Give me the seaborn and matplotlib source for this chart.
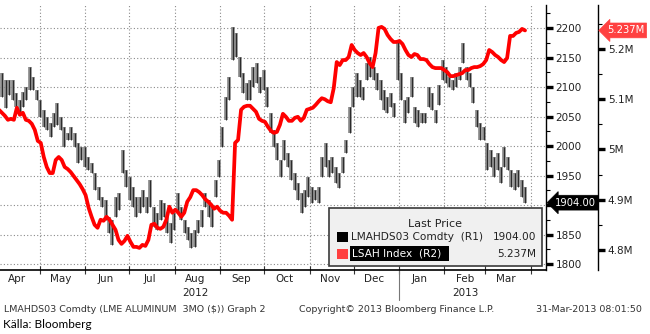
import numpy as np
import pandas as pd
import matplotlib
matplotlib.use("Agg")
import matplotlib.pyplot as plt
import matplotlib.dates as mdates
import matplotlib.ticker as mticker
from matplotlib.transforms import blended_transform_factory
from matplotlib.patches import Rectangle
import seaborn as sns

# ---------------- data ----------------
start_date = "2012-04-03"
end_date = "2013-03-28"

lme_high = [2146, 2124, 2112, 2112, 2112, 2090, 2078, 2092, 2100, 2134,
            2117, 2095, 2078, 2061, 2049, 2039, 2056, 2073, 2049, 2032,
            2022, 2032, 2022, 2005, 1998, 1998, 1981, 1971, 1954, 1931,
            1914, 1908, 1880, 1875, 1914, 1920, 1993, 1959, 1947, 1931,
            1914, 1914, 1925, 1914, 1942, 1897, 1887, 1908, 1903, 1880,
            1870, 1887, 1920, 1897, 1875, 1863, 1853, 1858, 1875, 1892,
            1920, 1908, 1897, 1942, 1976, 2032, 2083, 2117, 2202, 2192,
            2151, 2124, 2107, 2112, 2134, 2141, 2117, 2129, 2100, 2056,
            2027, 2005, 1976, 2010, 1988, 1976, 1954, 1937, 1920, 1925,
            1947, 1931, 1925, 1931, 1981, 2005, 1976, 1981, 1964, 1954,
            1981, 2010, 2066, 2100, 2124, 2112, 2100, 2141, 2151, 2134,
            2124, 2112, 2095, 2083, 2090, 2073, 2180, 2124, 2078, 2083,
            2117, 2066, 2061, 2056, 2056, 2100, 2090, 2061, 2103, 2146,
            2134, 2117, 2112, 2124, 2134, 2175, 2134, 2124, 2100, 2061,
            2039, 2032, 2005, 1993, 1981, 1988, 1964, 1998, 1981, 1959,
            1954, 1959, 1942, 1931]

lme_low = [2124, 2083, 2064, 2086, 2078, 2066, 2053, 2066, 2078, 2095,
           2095, 2078, 2049, 2032, 2027, 2015, 2032, 2036, 2027, 1998,
           2010, 2010, 1998, 1971, 1976, 1964, 1959, 1954, 1925, 1908,
           1897, 1875, 1853, 1832, 1880, 1892, 1954, 1931, 1908, 1897,
           1880, 1887, 1897, 1887, 1897, 1863, 1858, 1875, 1880, 1853,
           1836, 1858, 1887, 1875, 1853, 1841, 1827, 1829, 1853, 1863,
           1897, 1880, 1863, 1914, 1947, 1998, 2044, 2078, 2146, 2151,
           2117, 2090, 2078, 2078, 2100, 2107, 2090, 2095, 2066, 2022,
           1998, 1976, 1947, 1976, 1964, 1942, 1925, 1908, 1887, 1897,
           1914, 1903, 1908, 1903, 1947, 1964, 1947, 1954, 1937, 1929,
           1954, 1988, 2022, 2066, 2083, 2083, 2078, 2112, 2117, 2112,
           2095, 2078, 2061, 2056, 2066, 2049, 2112, 2078, 2039, 2056,
           2083, 2039, 2032, 2039, 2039, 2066, 2061, 2039, 2070, 2112,
           2107, 2100, 2095, 2100, 2112, 2141, 2112, 2100, 2073, 2032,
           2010, 2010, 1959, 1964, 1947, 1959, 1937, 1964, 1959, 1931,
           1925, 1931, 1914, 1904]

lsah_m = [5.079, 5.073, 5.067, 5.059, 5.061, 5.059, 5.083, 5.069, 5.073, 5.059,
          5.057, 5.051, 5.039, 5.017, 5.013, 4.985, 4.965, 4.953, 4.953, 4.979,
          4.985, 4.979, 4.965, 4.961, 4.955, 4.947, 4.939, 4.931, 4.921, 4.909,
          4.884, 4.866, 4.850, 4.844, 4.860, 4.858, 4.866, 4.860, 4.850, 4.840,
          4.820, 4.812, 4.818, 4.828, 4.816, 4.806, 4.806, 4.804, 4.810, 4.808,
          4.820, 4.850, 4.852, 4.844, 4.842, 4.846, 4.860, 4.886, 4.874, 4.880,
          4.874, 4.866, 4.874, 4.896, 4.905, 4.919, 4.919, 4.915, 4.909, 4.901,
          4.896, 4.890, 4.882, 4.886, 4.878, 4.874, 4.874, 4.868, 4.860, 5.013,
          5.019, 5.079, 5.085, 5.087, 5.087, 5.081, 5.075, 5.061, 5.057, 5.055,
          5.045, 5.037, 5.033, 5.035, 5.049, 5.071, 5.065, 5.057, 5.057, 5.063,
          5.065, 5.057, 5.063, 5.079, 5.081, 5.083, 5.089, 5.096, 5.102, 5.100,
          5.096, 5.094, 5.122, 5.174, 5.168, 5.178, 5.178, 5.184, 5.208, 5.198,
          5.192, 5.188, 5.192, 5.184, 5.172, 5.164, 5.192, 5.242, 5.244, 5.240,
          5.228, 5.220, 5.214, 5.214, 5.216, 5.210, 5.198, 5.188, 5.184, 5.190,
          5.188, 5.180, 5.180, 5.178, 5.170, 5.164, 5.162, 5.162, 5.162, 5.158,
          5.154, 5.146, 5.146, 5.148, 5.150, 5.152, 5.158, 5.158, 5.162, 5.164,
          5.164, 5.166, 5.170, 5.178, 5.198, 5.194, 5.188, 5.184, 5.178, 5.174,
          5.182, 5.226, 5.226, 5.232, 5.234, 5.240, 5.237]

lme_last = 1904.00
r1_ticks = [1800, 1850, 1900, 1950, 2000, 2050, 2100, 2150, 2200]
r1_hidden_label = 1900          # covered by the last-price tag in the original
r2_ticks = [4.8, 4.9, 5.0, 5.1, 5.2]
year_labels = [("2012-08-15", "2012"), ("2013-02-15", "2013")]
series_names = ["LMAHDS03 Comdty  (R1)", "LSAH Index  (R2)"]
footer_left = "LMAHDS03 Comdty (LME ALUMINUM  3MO ($)) Graph 2"
footer_mid = "Copyright\u00a9 2013 Bloomberg Finance L.P."
footer_right = "31-Mar-2013 08:01:50"
source_text = "K\u00e4lla: Bloomberg"

lme_df = pd.DataFrame({
    "date": pd.date_range(start_date, end_date, periods=len(lme_high)),
    "high": lme_high, "low": lme_low})
lsah_df = pd.DataFrame({
    "date": pd.date_range(start_date, end_date, periods=len(lsah_m)),
    "value": lsah_m})

# ---------------- style ----------------
sns.set_style("white")
plt.rcParams["font.family"] = ["DejaVu Sans"]
TXT = "#222222"

W, H = 650, 334
fig = plt.figure(figsize=(W / 100, H / 100), dpi=100)
fig.patch.set_facecolor("white")

def fx(x):
    return x / W

def fy(y):
    return 1 - y / H

ax1 = fig.add_axes([0, fy(270), fx(546), fy(5) - fy(270)])
ax1.set_facecolor("white")

# OHLC-style high/low bars
ax1.vlines(lme_df["date"], lme_df["low"], lme_df["high"], color="#858585", lw=2.6, zorder=2)
ax1.vlines(lme_df["date"], lme_df["low"], lme_df["high"], color="#111111", lw=0.55, zorder=3)

base = pd.Timestamp("2012-04-01")
x0 = mdates.date2num(base) + 2.73
x1 = mdates.date2num(base) + 375.3
ax1.set_ylim(1789.9, 2239.0)

# twin axis for LSAH
ax2 = ax1.twinx()
sns.lineplot(data=lsah_df, x="date", y="value", ax=ax2, color="#ff0000", lw=2.7, zorder=5)
ax2.set_ylim(4.760, 5.2876)
ax1.set_xlim(x0, x1)
ax2.set_xlim(x0, x1)
ax2.set_xlabel("")
ax2.set_ylabel("")
ax1.set_xlabel("")
ax1.set_ylabel("")
ax2.patch.set_visible(False)

# spines
for s in ["top", "left"]:
    ax1.spines[s].set_visible(False)
ax1.spines["right"].set_color("black")
ax1.spines["right"].set_linewidth(1.0)
ax1.spines["bottom"].set_color("black")
ax1.spines["bottom"].set_linewidth(1.2)
for s in ["top", "left", "bottom"]:
    ax2.spines[s].set_visible(False)
ax2.spines["right"].set_position(("axes", 598 / 546))
ax2.spines["right"].set_color("black")
ax2.spines["right"].set_linewidth(1.0)

# y ticks R1
ax1.yaxis.tick_right()
ax1.set_yticks(r1_ticks)
ax1.set_yticklabels(["" if t == r1_hidden_label else str(t) for t in r1_ticks])
ax1.yaxis.set_minor_locator(mticker.MultipleLocator(25))
ax1.tick_params(axis="y", which="major", right=True, left=False, labelright=True,
                labelleft=False, direction="out", length=5, width=2.4,
                labelsize=7.5, pad=2, labelcolor=TXT, color="black")
ax1.tick_params(axis="y", which="minor", right=True, left=False, direction="out",
                length=3, width=0.8, color="black")

# y ticks R2
ax2.set_yticks(r2_ticks)
ax2.yaxis.set_major_formatter(mticker.FuncFormatter(lambda v, p: f"{v:g}M"))
ax2.yaxis.set_minor_locator(mticker.MultipleLocator(0.05))
ax2.tick_params(axis="y", which="major", direction="out", length=5, width=2.4,
                labelsize=7.5, pad=2, labelcolor=TXT, color="black")
ax2.tick_params(axis="y", which="minor", direction="out", length=3, width=0.8, color="black")

# x ticks
ax1.xaxis.set_major_locator(mdates.MonthLocator())
ax1.xaxis.set_major_formatter(mticker.NullFormatter())
ax1.xaxis.set_minor_locator(mdates.MonthLocator(bymonthday=15))
ax1.xaxis.set_minor_formatter(mdates.DateFormatter("%b"))
ax1.tick_params(axis="x", which="major", direction="inout", length=6, width=0.8,
                color="#333333", bottom=True)
ax1.tick_params(axis="x", which="minor", length=0, labelsize=7.5, pad=3, labelcolor=TXT)

# grid
ax1.grid(True, which="major", axis="both", color="#8a8a8a", ls=(0, (1, 2)), lw=0.8)
ax1.set_axisbelow(True)
ax2.grid(False)

# year labels + separator
tr = blended_transform_factory(ax1.transData, ax1.transAxes)
for d, lab in year_labels:
    ax1.text(mdates.date2num(pd.Timestamp(d)), -0.087, lab, transform=tr,
             ha="center", va="center", fontsize=7.5, color=TXT)
jan = mdates.date2num(pd.Timestamp("2013-01-01"))
ax1.plot([jan, jan], [0, -0.113], transform=tr, clip_on=False, color="#777777", lw=0.8)

# value tags on the axes
tr1 = blended_transform_factory(ax1.transAxes, ax1.transData)
ax1.annotate(f"{lme_last:.2f}", xy=(1.0, lme_last), xycoords=tr1, xytext=(6.6, 0),
             textcoords="offset points", ha="left", va="center", fontsize=7.2,
             color="white", zorder=10, annotation_clip=False,
             bbox=dict(boxstyle="larrow,pad=0.24", fc="black", ec="black", lw=0.5))
tr2 = blended_transform_factory(ax2.transAxes, ax2.transData)
ax2.annotate(f"{lsah_m[-1]:.3f}M", xy=(598 / 546, lsah_m[-1]), xycoords=tr2, xytext=(6.4, 0),
             textcoords="offset points", ha="left", va="center", fontsize=7.2,
             color="white", zorder=10, annotation_clip=False,
             bbox=dict(boxstyle="larrow,pad=0.24", fc="#ff4040", ec="#ff4040", lw=0.5))

# legend box (Bloomberg style)
LF = 7.6
fig.add_artist(Rectangle((fx(329), fy(266)), fx(542) - fx(329), fy(208) - fy(266),
                         transform=fig.transFigure, fc="#f0f0f0", ec="#3a3a3a", lw=1.2, zorder=20))
fig.text(fx(435), fy(224), "Last Price", ha="center", va="center", fontsize=8, color=TXT, zorder=21)
fig.add_artist(Rectangle((fx(337), fy(242)), fx(11), fy(0) - fy(10), transform=fig.transFigure,
                         fc="black", ec="none", zorder=21))
fig.text(fx(351), fy(237), series_names[0], ha="left", va="center", fontsize=LF, color=TXT, zorder=21)
fig.text(fx(536), fy(237), f"{lme_last:.2f}", ha="right", va="center", fontsize=LF, color=TXT, zorder=21)
fig.add_artist(Rectangle((fx(337), fy(259)), fx(11), fy(0) - fy(10), transform=fig.transFigure,
                         fc="#ff4040", ec="none", zorder=21))
fig.add_artist(Rectangle((fx(350), fy(261)), fx(449) - fx(350), fy(246) - fy(261),
                         transform=fig.transFigure, fc="black", ec="none", zorder=21))
fig.text(fx(352), fy(254), series_names[1], ha="left", va="center", fontsize=LF, color="white", zorder=22)
fig.text(fx(536), fy(254), f"{lsah_m[-1]:.3f}M", ha="right", va="center", fontsize=LF, color=TXT, zorder=21)

# footer
fig.text(fx(4), fy(310), footer_left, ha="left", va="center", fontsize=6.8, color="#333333")
fig.text(fx(397), fy(310), footer_mid, ha="center", va="center", fontsize=6.8, color="#333333")
fig.text(fx(642), fy(310), footer_right, ha="right", va="center", fontsize=6.8, color="#333333")
fig.text(fx(3), fy(325), source_text, ha="left", va="center", fontsize=8.5, color="black",
         family=["Lato", "DejaVu Sans"])

fig.savefig("out.png", dpi=100)
